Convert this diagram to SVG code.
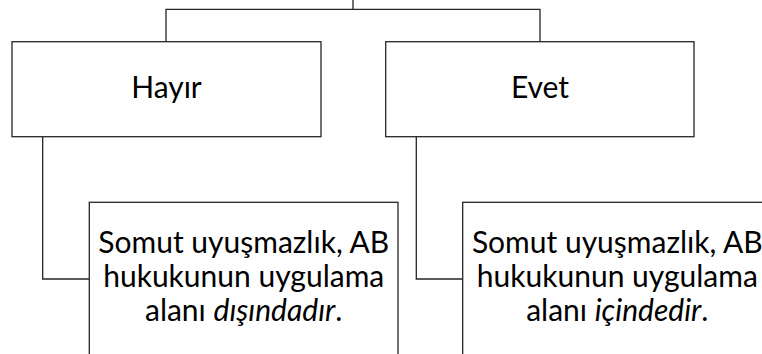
<svg xmlns="http://www.w3.org/2000/svg" width="762" height="354" viewBox="0 0 762 354">
<style>
.box{fill:#fff;stroke:#262626;stroke-width:1.3}
.conn{fill:none;stroke:#262626;stroke-width:1.3}
.t{font-family:Lato,"Liberation Sans",sans-serif;font-size:30px;fill:#000;text-anchor:middle}
.i{font-style:italic}
</style>
<rect width="762" height="354" fill="#fff"/>
<g id="connectors">
<path class="conn" d="M353 0V9.3M166 41.7V9.3H540V41.7"/>
<path class="conn" d="M42.7 136.7V279H89.3"/>
<path class="conn" d="M416.3 136.7V279H462.7"/>
</g>
<g id="hayir">
<rect class="box" x="12" y="41.7" width="309" height="95"/>
<text class="t" x="166.5" y="98">Hayır</text>
</g>
<g id="evet">
<rect class="box" x="385.7" y="41.7" width="308.3" height="95"/>
<text class="t" x="540" y="98">Evet</text>
</g>
<g id="disinda">
<rect class="box" x="89.3" y="202.3" width="308.7" height="170"/>
<text class="t" x="243.7" y="253.3">Somut uyuşmazlık, AB</text>
<text class="t" x="243.7" y="287">hukukunun uygulama</text>
<text class="t" x="243.7" y="321">alanı <tspan class="i">dışındadır</tspan>.</text>
</g>
<g id="icinde">
<rect class="box" x="462.7" y="202.3" width="309" height="170"/>
<text class="t" x="617.3" y="253.3">Somut uyuşmazlık, AB</text>
<text class="t" x="617.3" y="287">hukukunun uygulama</text>
<text class="t" x="617.3" y="321">alanı <tspan class="i">içindedir</tspan>.</text>
</g>
</svg>
